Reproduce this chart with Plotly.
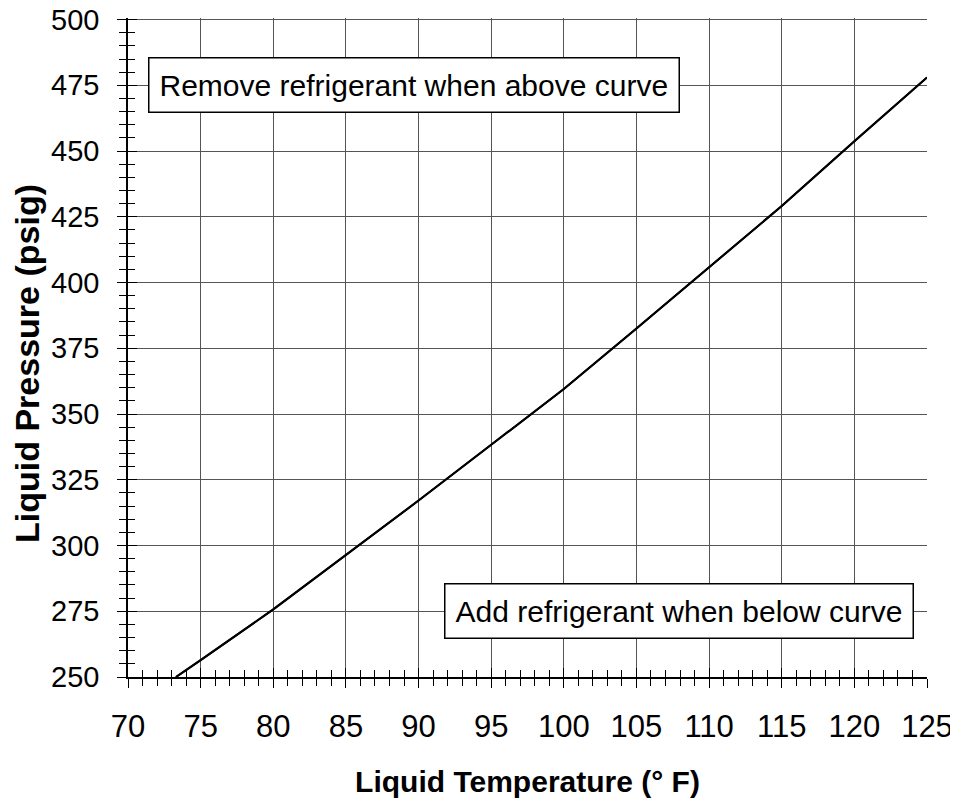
import plotly.graph_objects as go

# values
temperature_f = [73.3, 75, 80, 85, 90, 95, 100, 105, 110, 115, 120, 125]
pressure_psig = [250, 256.4, 275.7, 296.3, 317.1, 338.3, 359.5, 382.5, 405.9, 429.1, 453.7, 478]

x_range = [70, 125]
# a hair above 500 so plotly keeps the top grid line
y_range = [250, 500.6]

upper_note = "Remove refrigerant when above curve"
lower_note = "Add refrigerant when below curve"
upper_note_pos = (71.38, 475)
lower_note_pos = (124.1, 275)

FONT = "Liberation Sans, Arial, Helvetica, sans-serif"


def make_figure() -> go.Figure:
    figure = go.Figure()

    figure.add_trace(
        go.Scatter(
            x=temperature_f,
            y=pressure_psig,
            mode="lines",
            line=dict(color="black", width=2),
            showlegend=False,
            hoverinfo="x+y",
        )
    )

    # same curve on the overlay axes so the inward ticks are drawn
    figure.add_trace(
        go.Scatter(
            x=temperature_f,
            y=pressure_psig,
            mode="lines",
            line=dict(color="black", width=2),
            showlegend=False,
            hoverinfo="skip",
            xaxis="x2",
            yaxis="y2",
        )
    )

    for text, (x, y), anchor in (
        (upper_note, upper_note_pos, "left"),
        (lower_note, lower_note_pos, "right"),
    ):
        figure.add_annotation(
            x=x,
            y=y,
            xref="x",
            yref="y",
            text=text,
            showarrow=False,
            xanchor=anchor,
            yanchor="middle",
            font=dict(family=FONT, size=30, color="black"),
            bgcolor="white",
            bordercolor="black",
            borderwidth=1.5,
            borderpad=10,
        )

    # y title sits a little below the middle of the plot in the reference
    figure.add_annotation(
        x=0,
        y=0.475,
        xref="paper",
        yref="paper",
        xshift=-101,
        text="<b>Liquid Pressure (psig)</b>",
        textangle=-90,
        showarrow=False,
        xanchor="center",
        yanchor="middle",
        font=dict(family=FONT, size=34, color="black"),
    )

    tick_style = dict(tickcolor="black", tickwidth=1.3)

    # page body has an 8px margin, so the figure is a bit smaller than the window
    figure.update_layout(
        width=950,
        height=790,
        margin=dict(l=120, r=31, t=10, b=121),
        paper_bgcolor="white",
        plot_bgcolor="white",
        font=dict(family=FONT, color="black"),
        xaxis=dict(
            range=x_range,
            automargin=False,
            tick0=70,
            dtick=5,
            showgrid=True,
            gridcolor="#555555",
            gridwidth=1.2,
            zeroline=False,
            showline=True,
            linecolor="black",
            linewidth=1.5,
            ticks="outside",
            ticklen=9,
            ticklabelstandoff=12,
            ticklabeloverflow="allow",
            minor=dict(dtick=1, ticks="outside", ticklen=7, showgrid=False, **tick_style),
            tickfont=dict(size=31),
            title=dict(
                text="<b>Liquid Temperature (° F)</b>",
                font=dict(size=30),
                standoff=28,
            ),
            **tick_style,
        ),
        yaxis=dict(
            range=y_range,
            automargin=False,
            tick0=250,
            dtick=25,
            showgrid=True,
            gridcolor="#555555",
            gridwidth=1.2,
            zeroline=False,
            showline=True,
            linecolor="black",
            linewidth=1.5,
            ticks="outside",
            ticklen=9,
            ticklabelstandoff=12,
            ticklabeloverflow="allow",
            minor=dict(dtick=5, ticks="outside", ticklen=7, showgrid=False, **tick_style),
            tickfont=dict(size=29),
            **tick_style,
        ),
        xaxis2=dict(
            range=x_range,
            automargin=False,
            overlaying="x",
            anchor="y2",
            side="bottom",
            tick0=70,
            dtick=5,
            showgrid=False,
            zeroline=False,
            showline=False,
            showticklabels=False,
            ticks="inside",
            ticklen=9,
            minor=dict(dtick=1, ticks="inside", ticklen=7, showgrid=False, **tick_style),
            **tick_style,
        ),
        yaxis2=dict(
            range=y_range,
            automargin=False,
            overlaying="y",
            anchor="x2",
            side="left",
            tick0=250,
            dtick=25,
            showgrid=False,
            zeroline=False,
            showline=False,
            showticklabels=False,
            ticks="inside",
            ticklen=9,
            minor=dict(dtick=5, ticks="inside", ticklen=7, showgrid=False, **tick_style),
            **tick_style,
        ),
    )

    return figure


fig = make_figure()
fig.write_html("out.html")
